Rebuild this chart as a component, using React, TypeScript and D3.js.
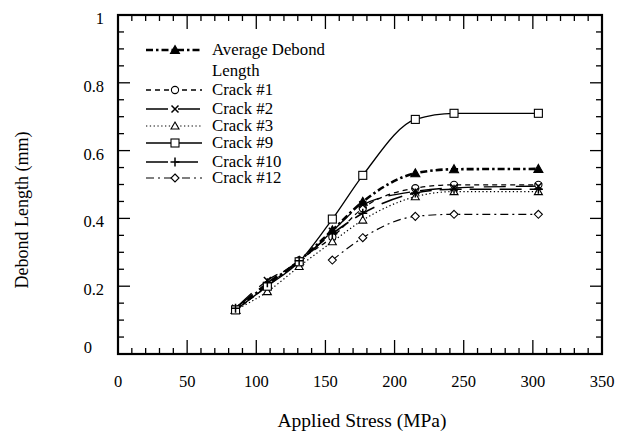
import React from "react";
import * as d3 from "d3";

const stress = [85, 108, 131, 155, 177, 215, 243, 304];
const stress12 = [155, 177, 215, 243, 304];
const avgDebond = [0.13, 0.205, 0.275, 0.365, 0.449, 0.533, 0.545, 0.546];
const crack1 = [0.13, 0.2, 0.276, 0.345, 0.43, 0.489, 0.499, 0.499];
const crack2 = [0.135, 0.217, 0.27, 0.362, 0.44, 0.48, 0.49, 0.495];
const crack3 = [0.13, 0.184, 0.258, 0.331, 0.395, 0.464, 0.479, 0.479];
const crack9 = [0.13, 0.2, 0.272, 0.398, 0.527, 0.692, 0.71, 0.71];
const crack10 = [0.135, 0.21, 0.275, 0.355, 0.415, 0.475, 0.486, 0.486];
const crack12 = [0.277, 0.343, 0.406, 0.412, 0.412];

const xTicks = [0, 50, 100, 150, 200, 250, 300, 350];
const yTicks = [0, 0.2, 0.4, 0.6, 0.8, 1];
const yTickLabels = ["0", "0.2", "0.4", "0.6", "0.8", "1"];

type Marker = "triFilled" | "circle" | "x" | "triOpen" | "square" | "plus" | "diamond";
interface Series {
  name: string[];
  xs: number[];
  ys: number[];
  marker: Marker;
  dash: string;
  width: number;
}

const series: Series[] = [
  { name: ["Average Debond", "Length"], xs: stress, ys: avgDebond, marker: "triFilled", dash: "7,3,2.5,3", width: 2.6 },
  { name: ["Crack #1"], xs: stress, ys: crack1, marker: "circle", dash: "5,4", width: 1.3 },
  { name: ["Crack #2"], xs: stress, ys: crack2, marker: "x", dash: "22,10", width: 1.3 },
  { name: ["Crack #3"], xs: stress, ys: crack3, marker: "triOpen", dash: "1.3,2.5", width: 1.2 },
  { name: ["Crack #9"], xs: stress, ys: crack9, marker: "square", dash: "", width: 1.3 },
  { name: ["Crack #10"], xs: stress, ys: crack10, marker: "plus", dash: "22,8", width: 1.6 },
  { name: ["Crack #12"], xs: stress12, ys: crack12, marker: "diamond", dash: "8,4,2,4", width: 1.2 },
];

const legendY = [50, 90, 109, 126, 143, 162, 178];

function MarkerShape({ type, x, y }: { type: Marker; x: number; y: number }) {
  const sw = 1.1;
  switch (type) {
    case "triFilled":
      return <path d={`M${x},${y - 4.5}L${x + 4.5},${y + 3.5}L${x - 4.5},${y + 3.5}Z`} fill="#000" stroke="#000" strokeWidth={sw} />;
    case "triOpen":
      return <path d={`M${x},${y - 4}L${x + 4},${y + 3}L${x - 4},${y + 3}Z`} fill="#fff" stroke="#000" strokeWidth={sw} />;
    case "circle":
      return <circle cx={x} cy={y} r={3.6} fill="#fff" stroke="#000" strokeWidth={sw} />;
    case "square":
      return <rect x={x - 4} y={y - 4} width={8} height={8} fill="#fff" stroke="#000" strokeWidth={sw} />;
    case "diamond":
      return <path d={`M${x},${y - 4}L${x + 4},${y}L${x},${y + 4}L${x - 4},${y}Z`} fill="#fff" stroke="#000" strokeWidth={sw} />;
    case "x":
      return <path d={`M${x - 3.5},${y - 3.5}L${x + 3.5},${y + 3.5}M${x - 3.5},${y + 3.5}L${x + 3.5},${y - 3.5}`} stroke="#000" strokeWidth={1.5} />;
    case "plus":
      return <path d={`M${x - 4.5},${y}L${x + 4.5},${y}M${x},${y - 4.5}L${x},${y + 4.5}`} stroke="#000" strokeWidth={1.5} />;
  }
}

export default function App() {
  const L = 118, T = 15, R = 602, B = 354;
  const x = d3.scaleLinear().domain([0, 350]).range([L, R]);
  const y = d3.scaleLinear().domain([0, 1]).range([B, T]);
  const line = d3
    .line<[number, number]>()
    .x((d) => x(d[0]))
    .y((d) => y(d[1]))
    .curve(d3.curveMonotoneX);

  const xMinor = d3.range(0, 351, 10);
  const yMinor = d3.range(0, 1.0001, 0.05).map((v) => Math.round(v * 100) / 100);
  const font = "'Liberation Serif', 'Times New Roman', serif";

  return (
    <svg width={623} height={436} style={{ position: "absolute", left: 0, top: 0, background: "#fff" }}>
      <rect x={0} y={0} width={623} height={436} fill="#fff" />
      {/* ticks */}
      <g stroke="#000" strokeWidth={1.3}>
        {xMinor.map((v) => {
          const major = v % 50 === 0;
          const len = major ? 14 : 6;
          return (
            <g key={"xt" + v}>
              <line x1={x(v)} x2={x(v)} y1={B} y2={B - len} />
              <line x1={x(v)} x2={x(v)} y1={T} y2={T + len} />
            </g>
          );
        })}
        {yMinor.map((v) => {
          const major = Math.abs(v * 10 - Math.round(v * 10)) < 1e-6 && Math.round(v * 10) % 2 === 0;
          const len = major ? 12 : 6;
          return (
            <g key={"yt" + v}>
              <line x1={L} x2={L + len} y1={y(v)} y2={y(v)} />
              <line x1={R} x2={R - len} y1={y(v)} y2={y(v)} />
            </g>
          );
        })}
      </g>
      <rect x={L} y={T} width={R - L} height={B - T} fill="none" stroke="#000" strokeWidth={2.2} />
      {/* tick labels */}
      <g fontFamily={font} fontSize={16.5} fill="#000">
        {xTicks.map((v) => (
          <text key={"xl" + v} x={x(v)} y={387} textAnchor="middle">
            {v}
          </text>
        ))}
        {yTicks.map((v, i) =>
          v === 0 ? (
            <text key={"yl" + v} x={92} y={353} textAnchor="end">
              {yTickLabels[i]}
            </text>
          ) : (
            <text key={"yl" + v} x={104} y={y(v) + 9} textAnchor="end">
              {yTickLabels[i]}
            </text>
          )
        )}
      </g>
      {/* axis titles */}
      <text x={362} y={427} textAnchor="middle" fontFamily={font} fontSize={19.5}>
        Applied Stress (MPa)
      </text>
      <text
        transform={`translate(28,210) rotate(-90)`}
        textAnchor="middle"
        fontFamily={font}
        fontSize={18}
      >
        Debond Length (mm)
      </text>
      {/* series lines */}
      {series.map((s, i) => (
        <path
          key={"l" + i}
          d={line(s.xs.map((v, j) => [v, s.ys[j]] as [number, number])) || ""}
          fill="none"
          stroke="#000"
          strokeWidth={s.width}
          strokeDasharray={s.dash || undefined}
        />
      ))}
      {/* markers */}
      {series.map((s, i) => (
        <g key={"m" + i}>
          {s.xs.map((v, j) => (
            <MarkerShape key={j} type={s.marker} x={x(v)} y={y(s.ys[j])} />
          ))}
        </g>
      ))}
      {/* legend */}
      <g fontFamily={font} fontSize={16.8}>
        {series.map((s, i) => (
          <g key={"lg" + i}>
            <line
              x1={146}
              x2={202}
              y1={legendY[i]}
              y2={legendY[i]}
              stroke="#000"
              strokeWidth={s.width}
              strokeDasharray={s.dash || undefined}
            />
            <MarkerShape type={s.marker} x={175} y={legendY[i]} />
            {s.name.map((n, k) => (
              <text key={k} x={212} y={legendY[i] + 5 + k * 21}>
                {n}
              </text>
            ))}
          </g>
        ))}
      </g>
    </svg>
  );
}
